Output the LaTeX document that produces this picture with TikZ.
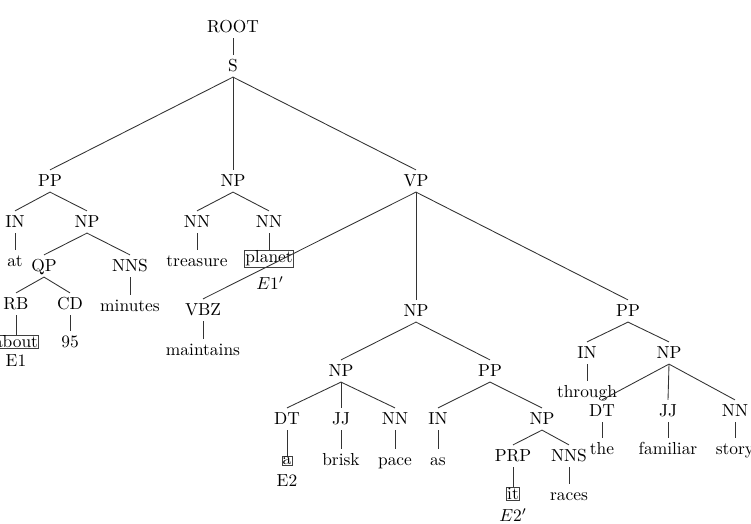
\documentclass[tikz,border=0pt]{standalone}
\usepackage{tikz}
\usetikzlibrary{positioning}
\tikzset{
  tag/.style={inner sep=2.2pt, text height=1.6ex, text depth=.25ex},
  word/.style={inner sep=2.2pt, text height=1.6ex, text depth=.25ex},
  entity/.style={draw=black!75, line width=0.4pt, inner sep=0.4pt},
  entlabel/.style={inner sep=1pt},
  branch/.style={draw=black!80, line width=0.5pt}
}

\begin{document}
\begin{tikzpicture}[x=0.575pt, y=-0.575pt]
  \useasboundingbox (0,0) rectangle (751,524);

  % upper part
  \node[tag] (root) at (233,27) {ROOT};
  \node[tag] (s) at (233,66) {S};
  \node[tag] (sPP) at (50,181) {PP};
  \node[tag] (sNP) at (233,181) {NP};
  \node[tag] (sVP) at (416,181) {VP};

  % at about 95 minutes
  \node[tag] (inAt) at (15,222) {IN};
  \node[tag] (npMin) at (87,222) {NP};
  \node[word] (wAt) at (15,261) {at};
  \node[tag] (qp) at (44,266) {QP};
  \node[tag] (nnsMin) at (130,266) {NNS};
  \node[tag] (rb) at (16,304) {RB};
  \node[tag] (cd) at (70,304) {CD};
  \node[entity] (wAbout) at (16,342) {about};
  \node[entlabel] (eOne) at (16,361) {E1};
  \node[word] (w95) at (70,342) {95};
  \node[word] (wMinutes) at (130,306) {minutes};

  % treasure planet
  \node[tag] (nnTre) at (197,222) {NN};
  \node[tag] (nnPla) at (269,222) {NN};
  \node[word] (wTreasure) at (197,261) {treasure};
  \node[entity] (wPlanet) at (269,258.5) {planet};
  \node[entlabel] (eOneP) at (270,283) {$E1'$};

  % verb phrase
  \node[tag] (vbz) at (203,310) {VBZ};
  \node[tag] (npObj) at (416,311) {NP};
  \node[tag] (ppThr) at (628,311) {PP};
  \node[word] (wMaintains) at (203,350) {maintains};

  \node[tag] (npPace) at (341,371) {NP};
  \node[tag] (ppAs) at (490,371) {PP};
  \node[tag] (dtA) at (287,419) {DT};
  \node[tag] (jjBrisk) at (341,419) {JJ};
  \node[tag] (nnPace) at (395,419) {NN};
  \node[entity] (wA) at (287,461) {a};
  \node[entlabel] (eTwo) at (287,481) {E2};
  \node[word] (wBrisk) at (341,460) {brisk};
  \node[word] (wPace) at (395,460) {pace};

  \node[tag] (inAs) at (438,419) {IN};
  \node[tag] (npRaces) at (542,419) {NP};
  \node[word] (wAs) at (438,460) {as};
  \node[tag] (prp) at (513,456) {PRP};
  \node[tag] (nnsRaces) at (569,456) {NNS};
  \node[entity] (wIt) at (513,494) {it};
  \node[entlabel] (eTwoP) at (513,515) {$E2'$};
  \node[word] (wRaces) at (569,495) {races};

  \node[tag] (inThr) at (587,353) {IN};
  \node[tag] (npStory) at (669,353) {NP};
  \node[word] (wThrough) at (587,392) {through};
  \node[tag] (dtThe) at (602,411) {DT};
  \node[tag] (jjFam) at (668,411) {JJ};
  \node[tag] (nnStory) at (735,411) {NN};
  \node[word] (wThe) at (602,449) {the};
  \node[word] (wFamiliar) at (668,449) {familiar};
  \node[word] (wStory) at (735,449) {story};

  % branches
  \draw[branch] (root.south) -- (s.north);
  \draw[branch] (s.south) -- (sPP.north);
  \draw[branch] (s.south) -- (sNP.north);
  \draw[branch] (s.south) -- (sVP.north);
  \draw[branch] (sPP.south) -- (inAt.north);
  \draw[branch] (sPP.south) -- (npMin.north);
  \draw[branch] (inAt.south) -- (wAt.north);
  \draw[branch] (npMin.south) -- (qp.north);
  \draw[branch] (npMin.south) -- (nnsMin.north);
  \draw[branch] (qp.south) -- (rb.north);
  \draw[branch] (qp.south) -- (cd.north);
  \draw[branch] (rb.south) -- (wAbout.north);
  \draw[branch] (cd.south) -- (w95.north);
  \draw[branch] (nnsMin.south) -- (wMinutes.north);
  \draw[branch] (sNP.south) -- (nnTre.north);
  \draw[branch] (sNP.south) -- (nnPla.north);
  \draw[branch] (nnTre.south) -- (wTreasure.north);
  \draw[branch] (nnPla.south) -- (wPlanet.north);
  \draw[branch] (sVP.south) -- (vbz.north);
  \draw[branch] (sVP.south) -- (npObj.north);
  \draw[branch] (sVP.south) -- (ppThr.north);
  \draw[branch] (vbz.south) -- (wMaintains.north);
  \draw[branch] (npObj.south) -- (npPace.north);
  \draw[branch] (npObj.south) -- (ppAs.north);
  \draw[branch] (npPace.south) -- (dtA.north);
  \draw[branch] (npPace.south) -- (jjBrisk.north);
  \draw[branch] (npPace.south) -- (nnPace.north);
  \draw[branch] (dtA.south) -- (wA.north);
  \draw[branch] (jjBrisk.south) -- (wBrisk.north);
  \draw[branch] (nnPace.south) -- (wPace.north);
  \draw[branch] (ppAs.south) -- (inAs.north);
  \draw[branch] (ppAs.south) -- (npRaces.north);
  \draw[branch] (inAs.south) -- (wAs.north);
  \draw[branch] (npRaces.south) -- (prp.north);
  \draw[branch] (npRaces.south) -- (nnsRaces.north);
  \draw[branch] (prp.south) -- (wIt.north);
  \draw[branch] (nnsRaces.south) -- (wRaces.north);
  \draw[branch] (ppThr.south) -- (inThr.north);
  \draw[branch] (ppThr.south) -- (npStory.north);
  \draw[branch] (inThr.south) -- (wThrough.north);
  \draw[branch] (npStory.south) -- (dtThe.north);
  \draw[branch] (npStory.south) -- (jjFam.north);
  \draw[branch] (npStory.south) -- (nnStory.north);
  \draw[branch] (dtThe.south) -- (wThe.north);
  \draw[branch] (jjFam.south) -- (wFamiliar.north);
  \draw[branch] (nnStory.south) -- (wStory.north);
\end{tikzpicture}
\end{document}
